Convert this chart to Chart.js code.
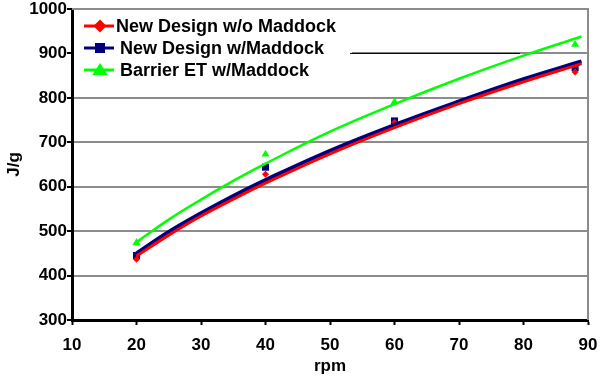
<!DOCTYPE html>
<html>
<head>
<meta charset="utf-8">
<script src="https://cdn.jsdelivr.net/npm/chart.js@4.4.0/dist/chart.umd.min.js"></script>
<style>
  html, body { margin: 0; padding: 0; background: #fff; }
  #wrap { width: 602px; height: 381px; }
</style>
</head>
<body>
<div id="wrap"><canvas id="chart" width="602" height="381"></canvas></div>
<script>
const seriesNames = ['New Design w/o Maddock', 'New Design w/Maddock', 'Barrier ET w/Maddock'];
const seriesColors = ['#ff0000', '#000080', '#00ff00'];
const seriesMarkers = ['rectRot', 'rect', 'triangle'];

const rpm = [20, 40, 60, 88];
const noMaddock = [437, 628, 745, 858];
const withMaddock = [445, 644, 748, 868];
const barrierEt = [474, 673, 791, 920];

// trend lines
const trendRpm = [20, 25, 30, 35, 40, 50, 60, 70, 80, 89];
const trendNoMaddock = [444, 491, 534, 572, 608, 674, 733, 787, 836, 877];
const trendWithMaddock = [450, 498, 540, 579, 615, 681, 739, 792, 842, 882];
const trendBarrierEt = [475, 526, 571, 613, 652, 724, 786, 843, 895, 938];

const FONT = "'Liberation Sans', Arial, sans-serif";

function pairs(xs, ys) {
  return xs.map((x, i) => ({ x: x, y: ys[i] }));
}

function drawMarker(ctx, style, x, y, r, color) {
  ctx.save();
  ctx.fillStyle = color;
  ctx.beginPath();
  if (style === 'rectRot') {
    ctx.moveTo(x, y - r); ctx.lineTo(x + r, y); ctx.lineTo(x, y + r); ctx.lineTo(x - r, y);
  } else if (style === 'rect') {
    ctx.rect(x - r, y - r, 2 * r, 2 * r);
  } else {
    ctx.moveTo(x, y - r); ctx.lineTo(x + r * 1.1, y + r * 0.7); ctx.lineTo(x - r * 1.1, y + r * 0.7);
  }
  ctx.closePath();
  ctx.fill();
  ctx.restore();
}

const frameAndLegend = {
  id: 'frameAndLegend',
  beforeDatasetsDraw(chart) {
    const { ctx, chartArea } = chart;
    ctx.save();
    // gray frame on top and right
    ctx.strokeStyle = '#8c8c8c';
    ctx.lineWidth = 2;
    ctx.beginPath();
    ctx.moveTo(chartArea.left, chartArea.top);
    ctx.lineTo(chartArea.right, chartArea.top);
    ctx.lineTo(chartArea.right, chartArea.bottom);
    ctx.stroke();
    // legend box covers the grid
    ctx.fillStyle = '#fff';
    ctx.fillRect(chartArea.left + 2, chartArea.top + 4, 278, 78);
    ctx.strokeStyle = '#000';
    ctx.lineWidth = 1;
    const y900 = chart.scales.y.getPixelForValue(900);
    ctx.beginPath();
    ctx.moveTo(350, y900);
    ctx.lineTo(520, y900);
    ctx.stroke();
    ctx.restore();
  },
  afterDraw(chart) {
    const ctx = chart.ctx;
    const rows = [26, 48, 70];
    const textX = [116, 120, 120];
    const sizes = [6.5, 5, 7];
    ctx.save();
    ctx.font = 'bold 18px ' + FONT;
    ctx.textBaseline = 'middle';
    seriesNames.forEach((name, i) => {
      ctx.strokeStyle = seriesColors[i];
      ctx.lineWidth = 3;
      ctx.beginPath();
      ctx.moveTo(84, rows[i]);
      ctx.lineTo(114, rows[i]);
      ctx.stroke();
      drawMarker(ctx, seriesMarkers[i], 100, rows[i], sizes[i], seriesColors[i]);
      ctx.fillStyle = '#000';
      ctx.fillText(name, textX[i], rows[i] + 1);
    });
    ctx.restore();
  }
};

const trendWidths = [3, 4, 2.5];
const trendOrders = [2, 3, 1];
const trendData = [trendNoMaddock, trendWithMaddock, trendBarrierEt];
const pointData = [noMaddock, withMaddock, barrierEt];
const pointRadii = [3.5, 5, 4.6];

const datasets = [];
seriesNames.forEach((name, i) => {
  datasets.push({
    label: name + ' trend',
    data: pairs(trendRpm, trendData[i]),
    showLine: true,
    borderColor: seriesColors[i],
    borderWidth: trendWidths[i],
    pointRadius: 0,
    tension: 0.4,
    order: trendOrders[i]
  });
  datasets.push({
    label: name,
    data: pairs(rpm, pointData[i]),
    showLine: false,
    pointStyle: seriesMarkers[i],
    pointRadius: pointRadii[i],
    pointBackgroundColor: seriesColors[i],
    pointBorderColor: seriesColors[i],
    pointBorderWidth: 0,
    order: 10
  });
});

const tickFont = { family: FONT, size: 17, weight: 'bold' };

new Chart(document.getElementById('chart'), {
  type: 'scatter',
  data: { datasets: datasets },
  options: {
    responsive: false,
    animation: false,
    layout: { padding: { top: 9, right: 14, left: 0, bottom: 0 } },
    plugins: { legend: { display: false }, tooltip: { enabled: false } },
    scales: {
      x: {
        type: 'linear',
        min: 10, max: 90,
        afterFit(scale) { scale.height = 61; scale.paddingLeft = 0; scale.paddingRight = 0; },
        ticks: { stepSize: 10, color: '#000', font: tickFont, padding: 10, maxRotation: 0 },
        grid: { drawOnChartArea: false, drawTicks: true, tickLength: 5, tickColor: '#000', tickWidth: 2 },
        border: { color: '#000', width: 3 },
        title: { display: true, text: 'rpm', color: '#000', font: tickFont, padding: { top: 2, bottom: 4 } }
      },
      y: {
        min: 300, max: 1000,
        afterFit(scale) { scale.width = 72; scale.paddingTop = 0; scale.paddingBottom = 0; },
        ticks: { stepSize: 100, color: '#000', font: tickFont, padding: 0, callback: v => String(v) },
        grid: { color: '#8c8c8c', lineWidth: 2, tickLength: 5, tickColor: '#000', tickWidth: 2 },
        border: { color: '#000', width: 3 },
        title: { display: true, text: 'J/g', color: '#000', font: tickFont, padding: { top: 4, bottom: 0 } }
      }
    }
  },
  plugins: [frameAndLegend]
});
</script>
</body>
</html>
